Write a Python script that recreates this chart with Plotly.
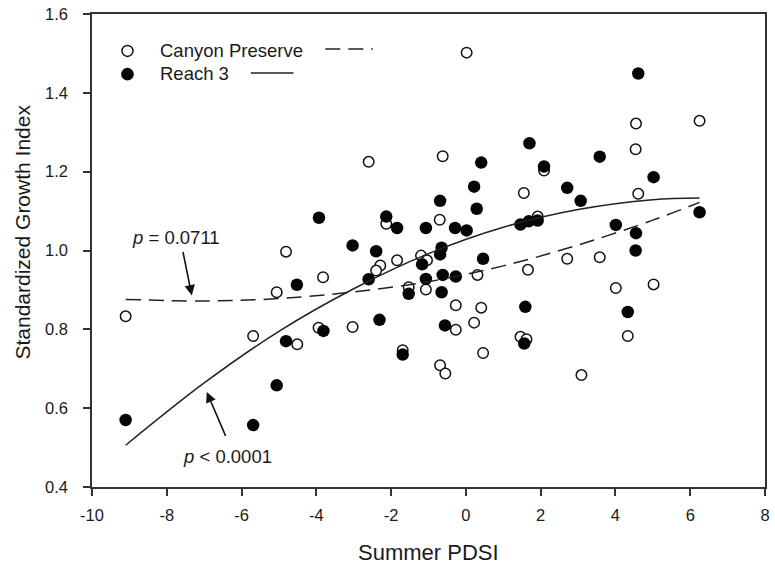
import plotly.graph_objects as go

# Canyon Preserve (open circles)
cp_x = [0.02, -2.60, -0.62, 2.09, 1.55, 4.55, 6.25, 4.54, 4.61, -4.81, -3.82, -5.06, -9.10,
        -3.94, -5.69, -4.51, -2.13, -0.70, 1.92, -2.29, -2.40, -1.84, -1.20, -1.04, 0.31,
        1.66, 2.71, -1.53, -1.07, -0.27, 0.41, -3.03, -0.27, 0.22, 1.46, 1.62, -1.69, 0.46,
        -0.69, -0.55, 3.09, 3.58, 4.01, 5.02, 4.33]
cp_y = [1.502, 1.225, 1.239, 1.203, 1.146, 1.322, 1.329, 1.257, 1.144, 0.997, 0.932, 0.894, 0.833,
        0.804, 0.783, 0.762, 1.068, 1.078, 1.086, 0.962, 0.949, 0.975, 0.987, 0.975, 0.938,
        0.951, 0.979, 0.907, 0.901, 0.861, 0.855, 0.806, 0.799, 0.817, 0.781, 0.775, 0.747, 0.740,
        0.709, 0.688, 0.684, 0.983, 0.905, 0.914, 0.783]

# Reach 3 (filled circles)
r3_x = [0.41, 1.70, 2.09, 0.22, 2.71, 3.07, -0.69, 4.61, 3.58, 5.02, -3.93, -4.52, -3.81, -4.81,
        -5.06, -9.10, -5.69, -2.13, -1.84, -1.07, 0.29, -0.29, 0.02, 1.46, 1.68, 1.92, -3.03,
        -2.40, -2.60, -1.17, -0.65, -0.69, 0.46, -1.07, -0.62, -0.27, -1.53, -0.65, 1.59, -2.31,
        -0.56, 1.56, -1.69, 6.25, 4.01, 4.55, 4.54, 4.33]
r3_y = [1.223, 1.272, 1.213, 1.162, 1.159, 1.126, 1.126, 1.449, 1.238, 1.186, 1.083, 0.913, 0.796, 0.770,
        0.658, 0.570, 0.557, 1.086, 1.057, 1.057, 1.106, 1.057, 1.051, 1.066, 1.074, 1.076, 1.013,
        0.998, 0.927, 0.965, 1.007, 0.990, 0.979, 0.928, 0.938, 0.934, 0.890, 0.894, 0.857, 0.824,
        0.810, 0.764, 0.736, 1.097, 1.065, 1.044, 1.000, 0.844]

# Fitted curves
fit_x = [-9.1, -7, -5, -3, -1, 1, 3, 5, 6.25]
cp_fit_y = [0.876, 0.872, 0.878, 0.895, 0.921, 0.961, 1.014, 1.077, 1.122]
r3_fit_y = [0.506, 0.664, 0.795, 0.903, 0.992, 1.059, 1.104, 1.129, 1.133]

x_ticks = [-10, -8, -6, -4, -2, 0, 2, 4, 6, 8]
y_ticks = [0.4, 0.6, 0.8, 1.0, 1.2, 1.4, 1.6]

FONT = "Liberation Sans, Arial, sans-serif"
TXT = "#1a1a1a"
AX = "#333333"

fig = go.Figure()
fig.add_trace(go.Scatter(x=cp_x, y=cp_y, mode="markers", name="Canyon Preserve",
                         marker=dict(symbol="circle", size=10.5, color="white",
                                     line=dict(color="#111", width=1.5))))
fig.add_trace(go.Scatter(x=r3_x, y=r3_y, mode="markers", name="Reach 3",
                         marker=dict(symbol="circle", size=12.5, color="#050505",
                                     line=dict(width=0))))
fig.add_trace(go.Scatter(x=fit_x, y=cp_fit_y, mode="lines", line_shape="spline",
                         line=dict(color="#222", width=1.5, dash="15px,8px")))
fig.add_trace(go.Scatter(x=fit_x, y=r3_fit_y, mode="lines", line_shape="spline",
                         line=dict(color="#222", width=1.5)))

# p-value labels and arrows
fig.add_annotation(x=-7.756, y=1.033, xref="x", yref="y", text="<i>p</i> = 0.0711",
                   showarrow=False, font=dict(family=FONT, size=18.5, color=TXT))
fig.add_annotation(x=-6.374, y=0.478, xref="x", yref="y", text="<i>p</i> < 0.0001",
                   showarrow=False, font=dict(family=FONT, size=18.5, color=TXT))
fig.add_annotation(x=-7.33, y=0.886, ax=-7.575, ay=1.0, xref="x", yref="y", axref="x", ayref="y",
                   text="", showarrow=True, arrowhead=2, arrowsize=1.3, arrowwidth=1.6,
                   arrowcolor="#111", standoff=0, startstandoff=0)
fig.add_annotation(x=-6.93, y=0.641, ax=-6.41, ay=0.526, xref="x", yref="y", axref="x", ayref="y",
                   text="", showarrow=True, arrowhead=2, arrowsize=1.3, arrowwidth=1.6,
                   arrowcolor="#111", standoff=0, startstandoff=0)

# manual legend
fig.add_shape(type="circle", xref="paper", yref="paper", xsizemode="pixel", ysizemode="pixel",
              xanchor=0.0527, yanchor=0.9219, x0=-5.5, x1=5.5, y0=-5.5, y1=5.5,
              line=dict(color="#111", width=1.5), fillcolor="white")
fig.add_shape(type="circle", xref="paper", yref="paper", xsizemode="pixel", ysizemode="pixel",
              xanchor=0.0527, yanchor=0.8728, x0=-6.3, x1=6.3, y0=-6.3, y1=6.3,
              line=dict(width=0), fillcolor="#050505")
fig.add_shape(type="line", xref="paper", yref="paper", x0=0.3466, x1=0.4174, y0=0.926, y1=0.926,
              line=dict(color="#222", width=1.5, dash="15px,8px"))
fig.add_shape(type="line", xref="paper", yref="paper", x0=0.236, x1=0.2994, y0=0.8755, y1=0.8755,
              line=dict(color="#222", width=1.5))
fig.add_annotation(x=0.0988, y=0.923, xref="paper", yref="paper", text="Canyon Preserve",
                   xanchor="left", yanchor="middle", showarrow=False,
                   font=dict(family=FONT, size=18.5, color=TXT))
fig.add_annotation(x=0.0988, y=0.8745, xref="paper", yref="paper", text="Reach 3",
                   xanchor="left", yanchor="middle", showarrow=False,
                   font=dict(family=FONT, size=18.5, color=TXT))

# axis titles
fig.add_annotation(x=0.5, y=-0.139, xref="paper", yref="paper", text="Summer PDSI",
                   showarrow=False, xanchor="center", yanchor="middle",
                   font=dict(family=FONT, size=22, color=TXT))
fig.add_annotation(x=-0.1025, y=0.538, xref="paper", yref="paper", text="Standardized Growth Index",
                   showarrow=False, textangle=-90, xanchor="center", yanchor="middle",
                   font=dict(family=FONT, size=21, color=TXT))

fig.update_layout(
    width=775, height=569,
    margin=dict(l=92, r=5, t=13, b=82),
    paper_bgcolor="white", plot_bgcolor="white",
    showlegend=False,
    font=dict(family=FONT, size=16, color=TXT),
)
fig.update_xaxes(range=[-10, 8], tickvals=x_ticks, ticktext=[str(v) for v in x_ticks],
                 showgrid=False, zeroline=False, showline=True, mirror=True,
                 linecolor=AX, linewidth=1.5, ticks="outside", ticklen=7, tickwidth=1.5,
                 tickcolor=AX, ticklabelstandoff=5, tickfont=dict(family=FONT, size=16.5, color=TXT))
fig.update_yaxes(range=[0.4, 1.6], tickvals=y_ticks, ticktext=[f"{v:.1f}" for v in y_ticks],
                 showgrid=False, zeroline=False, showline=True, mirror=True,
                 linecolor=AX, linewidth=1.5, ticks="outside", ticklen=7, tickwidth=1.5,
                 tickcolor=AX, ticklabelstandoff=12, tickfont=dict(family=FONT, size=16.5, color=TXT))

fig.write_html("out.html")
